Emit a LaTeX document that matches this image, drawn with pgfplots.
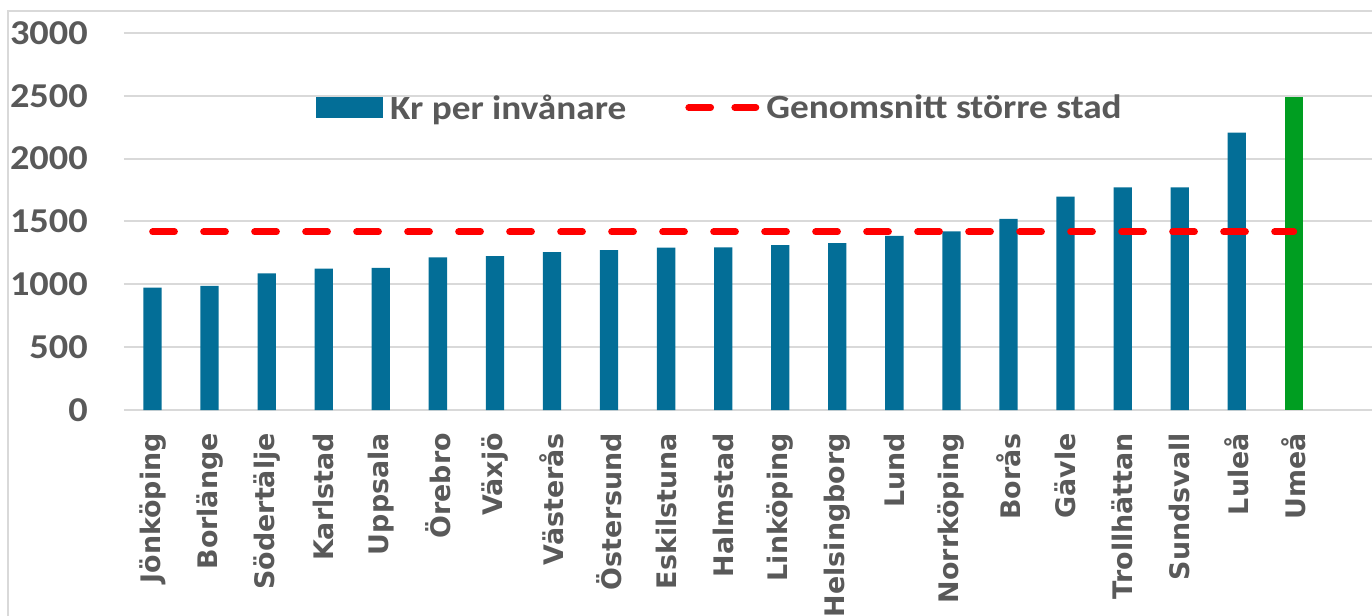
\documentclass[border=0pt]{standalone}
\usepackage{fontspec}
\setmainfont{Carlito}[FakeStretch=1.1]
\newfontfamily\dejavu{DejaVu Sans}
\usepackage{pgfplots}
\pgfplotsset{compat=1.18}
\definecolor{barblue}{RGB}{3,110,151}
\definecolor{bargreen}{RGB}{0,158,33}
\definecolor{txt}{RGB}{89,89,89}
\definecolor{gridc}{RGB}{217,217,217}
\begin{document}
\begin{tikzpicture}[x=1bp,y=1bp]
\useasboundingbox (-124,-206) rectangle (1248,410);
\clip (-124,-206) rectangle (1248,410);
\draw[gridc, line width=1.5bp] (-116,-220) -- (-116,399) -- (1260,399);
\begin{axis}[
  at={(0,0)}, anchor=south west,
  scale only axis, width=1248bp, height=377bp,
  xmin=-0.5, xmax=21.37, ymin=0, ymax=3000,
  axis line style={draw=none},
  ytick={0,500,...,3000},
  ymajorgrids, grid style={gridc, line width=2bp},
  xtick={0,...,20},
  xticklabels={Jönköping,Borlänge,Södertälje,Karlstad,Uppsala,Örebro,Växjö,Västerås,Östersund,Eskilstuna,Halmstad,Linköping,Helsingborg,Lund,Norrköping,Borås,Gävle,Trollhättan,Sundsvall,Luleå,Umeå},
  major tick length=0pt,
  tick style={draw=none},
  /pgf/number format/assume math mode=true,
  /pgf/number format/1000 sep={},
  yticklabel style={font=\fontsize{35}{40}\selectfont\bfseries, text=txt, inner sep=0pt, anchor=east},
  yticklabel shift=36bp,
  xticklabel style={rotate=90, anchor=east, font=\dejavu\fontsize{27}{30}\selectfont\bfseries, text=txt, inner sep=0pt},
  xticklabel shift=23bp,
  legend columns=2,
  legend style={at={(axis description cs:0.15385,0.8024)}, anchor=west, draw=none, fill=none,
    font=\fontsize{34}{40}\selectfont\bfseries, text=txt, inner sep=0pt,
    nodes={inner sep=0pt},
    /tikz/every odd column/.style={column sep=7bp},
    /tikz/every even column/.style={column sep=59bp}},
]
\addplot[ybar, bar width=18.3bp, bar shift=0pt, fill=barblue, draw=none,
  legend image code/.code={\fill[barblue] (0bp,-10.5bp) rectangle (67bp,10.5bp);}]
  coordinates {(0,973) (1,987) (2,1088) (3,1125) (4,1130) (5,1215) (6,1225) (7,1257) (8,1273) (9,1292) (10,1295) (11,1311) (12,1327) (13,1385) (14,1422) (15,1520) (16,1697) (17,1772) (18,1772) (19,2207)};
\addlegendentry{Kr per invånare}
\addplot[ybar, bar width=18.3bp, bar shift=0pt, fill=bargreen, draw=none, forget plot]
  coordinates {(20,2491)};
\addplot[red, line width=6.7bp, dash pattern=on 22bp off 29bp, line cap=round, mark=none,
  legend image code/.code={\draw[red, line width=6.7bp, dash pattern=on 22bp off 24bp, line cap=round] (3.35bp,0bp) -- (70.6bp,0bp);}]
  coordinates {(0,1418) (20,1418)};
\addlegendentry{Genomsnitt större stad}
\end{axis}
\end{tikzpicture}
\end{document}
